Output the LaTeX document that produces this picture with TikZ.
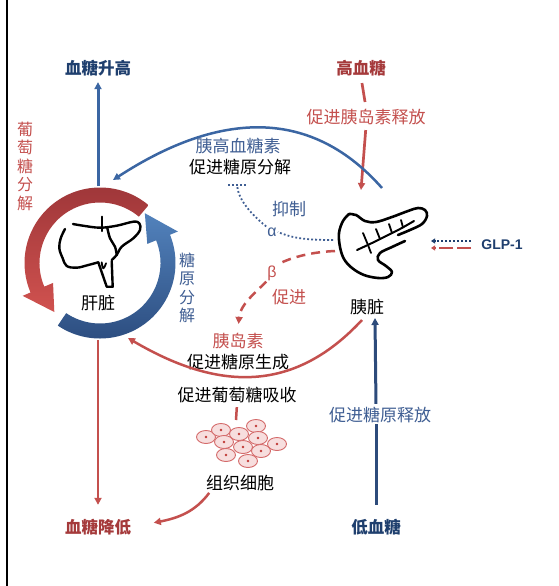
\documentclass[tikz,border=0pt]{standalone}
\usepackage{fontspec}
\setmainfont{Noto Sans CJK SC}
\newfontfamily\latinfont{Liberation Sans}
\usetikzlibrary{arrows.meta}

\definecolor{navy}{HTML}{1F3F6E}
\definecolor{steel}{HTML}{3B66A3}
\definecolor{slate}{HTML}{3F5E93}
\definecolor{brick}{HTML}{A53A3B}
\definecolor{rose}{HTML}{C4504E}
\definecolor{lowline}{HTML}{2D4B7B}
\definecolor{redtop}{HTML}{9C3538}
\definecolor{redlow}{HTML}{D0524F}
\definecolor{bluetop}{HTML}{5282BC}
\definecolor{bluelow}{HTML}{2A4A7C}
\definecolor{cellline}{HTML}{D46A6A}
\definecolor{cellfill}{HTML}{F7DEDE}
\definecolor{celldot}{HTML}{C03A36}

\begin{document}
\begin{tikzpicture}[x=1pt,y=-1pt,
    lbl/.style={font=\fontsize{17}{20}\selectfont,inner sep=1pt},
    key/.style={font=\bfseries\fontsize{16.5}{20}\selectfont,inner sep=1pt},
    vlbl/.style={font=\fontsize{16}{18.5}\selectfont,align=center,inner sep=1pt},
    greek/.style={font=\latinfont\fontsize{16}{18}\selectfont,inner sep=1pt},
    tip/.style={-{Triangle[length=7pt,width=7pt]}},
    smalltip/.style={-{Triangle[length=4pt,width=5pt]}},
    redline/.style={draw=rose,line width=2.7pt},
    blueline/.style={draw=steel,line width=2.7pt},
    inhib/.style={draw=slate,line width=1.8pt,dash pattern=on 1.8pt off 2.2pt},
    promo/.style={draw=rose,line width=2.5pt,dash pattern=on 9pt off 6pt},
    cell/.style={draw=cellline,fill=cellfill,line width=0.9pt},
    organ/.style={draw=black,line width=2.4pt,line cap=round,line join=round}]

  \fill[white] (0,0) rectangle (559,586);
  \useasboundingbox (0,0) rectangle (559,586);
  \draw[line width=1.2pt] (7,0) -- (7,586);

  % blood sugar states
  \node[key,navy] (up) at (98,68) {血糖升高};
  \node[key,brick] (high) at (361,68) {高血糖};
  \node[key,navy] (low) at (376,527) {低血糖};
  \node[key,brick] (down) at (98,527) {血糖降低};

  % labels
  \node[lbl,rose] (insrel) at (366,117) {促进胰岛素释放};
  \node[lbl,slate] (glucagon) at (238,146) {胰高血糖素};
  \node[lbl] (glycogenolysis) at (240,167) {促进糖原分解};
  \node[lbl,slate] (inhibit) at (289,209) {抑制};
  \node[greek,slate] (alpha) at (272,232) {α};
  \node[greek,rose] (beta) at (272,273) {β};
  \node[lbl,rose] (promote) at (289,297) {促进};
  \node[lbl] (pancreaslbl) at (367,307) {胰脏};
  \node[lbl] (liverlbl) at (98,303) {肝脏};
  \node[lbl,rose] (insulin) at (238,341) {胰岛素};
  \node[lbl] (glycogenesis) at (238,362) {促进糖原生成};
  \node[lbl] (uptake) at (237,395) {促进葡萄糖吸收};
  \node[lbl] (cells) at (240,483) {组织细胞};
  \node[lbl,slate] (release) at (380,415) {促进糖原释放};
  \node[vlbl,rose] (glycolysis) at (25,166) {葡\\萄\\糖\\分\\解};
  \node[vlbl,slate] (breakdown) at (187,288) {糖\\原\\分\\解};
  \node[font=\latinfont\bfseries\fontsize{14}{16}\selectfont,navy,inner sep=1pt] (glp) at (502,245) {GLP-1};

  % free ends on the organs
  \coordinate (livertop) at (98,186);
  \coordinate (liverbot) at (98,340);
  \coordinate (panctop) at (361,190);
  \coordinate (pancrim) at (382,188);
  \coordinate (pancbot) at (362,320);
  \coordinate (pancin) at (375,318);
  \coordinate (glucin) at (113,180);
  \coordinate (insin) at (128,338);
  \coordinate (alphaout) at (333,240);
  \coordinate (betaout) at (335,251);
  \coordinate (bar) at (237,185);
  \coordinate (celltop) at (236,420);
  \coordinate (glpa) at (431,241);
  \coordinate (glpb) at (431,248);

  % vertical arrows
  \draw[blueline,tip,line width=3pt,shorten >=5pt] (livertop) -- (up.south);
  \draw[redline,tip,shorten >=13pt] (liverbot) -- (down.north);
  \draw[redline,shorten <=6pt,shorten >=6pt] (high.south) -- (insrel.north);
  \draw[redline,tip,shorten <=4pt] (insrel.south) -- (panctop);
  \draw[draw=lowline,line width=3pt,shorten <=13pt] (low.north) -- (low.north |- release.south);
  \draw[draw=lowline,line width=3pt,tip,shorten <=2pt] (low.north |- release.north) -- (pancin);

  % glucagon and insulin arcs
  \draw[blueline,line width=2.5pt,tip] (pancrim) .. controls (307,103) and (213,115) .. (glucin);
  \draw[redline,line width=2.5pt,tip] (pancbot) .. controls (297,390) and (223,394) .. (insin);

  % alpha cells inhibit, beta cells promote
  \draw[inhib] (alphaout) .. controls (305,240) and (292,238) .. (alpha.east);
  \draw[inhib] (alpha.north west) .. controls (252,215) and (238,200) .. (bar);
  \draw[inhib] ([xshift=-9pt]bar) -- ([xshift=9pt]bar);
  \draw[promo] (betaout) .. controls (312,252) and (292,257) .. (beta.north east);
  \draw[promo,tip,shorten >=8pt] (beta.south west) .. controls (255,293) and (240,305) .. (insulin.north);

  % GLP-1
  \draw[inhib,draw=navy,smalltip,shorten <=9pt] ([yshift=4pt]glp.west) -- (glpa);
  \draw[promo,dash pattern=on 14pt off 4pt,smalltip,shorten <=9pt] ([yshift=-3pt]glp.west) -- (glpb);

  % tissue uptake
  \draw[redline,line width=2.5pt,shorten <=3pt] (uptake.south) -- (celltop);
  \draw[redline,line width=2.5pt,tip,shorten <=1pt,shorten >=22pt] ([xshift=5pt]cells.south west) .. controls (195,512) and (178,518) .. (down.east);

  % liver cycle
  \begin{scope}[shift={(100,263)}]
    \shade[top color=redtop,bottom color=redlow]
      (-50:75.5) arc[start angle=-50,end angle=-203,radius=75.5]
      -- (-203:84) -- (-227:67) -- (-203:51) -- (-203:60.5)
      arc[start angle=-203,end angle=-50,radius=60.5] -- cycle;
    \shade[top color=bluetop,bottom color=bluelow]
      (-236:75.5) arc[start angle=-236,end angle=-382,radius=75.5]
      -- (-382:84) -- (-408:67) -- (-382:51) -- (-382:60.5)
      arc[start angle=-382,end angle=-236,radius=60.5] -- cycle;
  \end{scope}

  % liver
  \draw[organ] plot[smooth,tension=0.6] coordinates {(73,224) (83,225.7) (100,227.7) (116.7,225.7) (133.3,221.7) (139.3,223.3) (140,230) (133.3,238.3) (121.7,246.7) (116.7,255) (111.7,260)};
  \draw[organ] plot[smooth,tension=0.6] coordinates {(65,229) (60.7,238.3) (59.3,248.3) (62.7,258.3) (66.7,266) (76.7,267.7) (88.3,265) (98.3,262.3)};
  \draw[organ] plot[smooth,tension=0.6] coordinates {(107.3,227.7) (110,238.3) (115,246.7) (116.7,255)};
  \draw[organ] (101.7,216.7) -- (101.7,231);
  \draw[organ] (98.3,262.3) -- (106.7,286.7) -- (112.7,286.7) -- (111.7,261);
  \draw[organ,line width=1.8pt] plot[smooth,tension=0.8] coordinates {(101.7,262.3) (103.3,268.3) (106,263.3)};

  % pancreas
  \draw[organ,line width=2.6pt] plot[smooth,tension=0.6] coordinates {(349,214) (343,221) (339,233) (340,247) (344,259) (352,268) (364,275) (378,278) (388,277) (392,272) (386,266) (378,260) (380,253) (392,247) (405,241)};
  \draw[organ,line width=2.6pt] plot[smooth,tension=0.6] coordinates {(349,214) (356,215) (365,221) (376,222) (392,217) (408,211) (418,208) (425,210) (427,216) (422,224) (410,230) (398,235)};
  \draw[organ,line width=2pt] plot[smooth,tension=0.6] coordinates {(357,250) (372,243) (386,236) (400,229) (414,221)};
  \foreach \vx/\vy/\wx/\wy in {368/245/363/233, 380/239/376/229, 392/233/389/224, 403/227.5/401/220, 368/245/371/253}
    \draw[organ,line width=1.8pt] (\vx,\vy) -- (\wx,\wy);

  % tissue cells
  \foreach \cx/\cy in {206/437, 221/430, 256/426, 239/434, 258/438, 224/442, 277/444, 243/447, 261/451, 226/455, 248/461}
  {
    \draw[cell] (\cx,\cy) ellipse[x radius=9.5,y radius=6.5];
    \fill[celldot] (\cx,\cy) circle[radius=1.3];
  }
\end{tikzpicture}
\end{document}
